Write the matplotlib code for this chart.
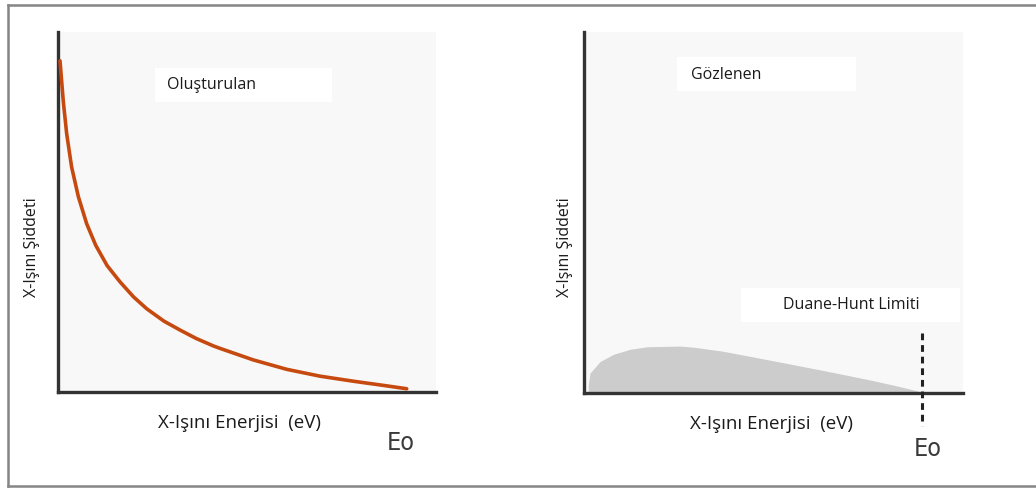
import numpy as np
import matplotlib
matplotlib.use("Agg")
import matplotlib.pyplot as plt
from matplotlib.patches import Rectangle
from matplotlib.lines import Line2D

# values (x and y in % of the axis)
gen_x = [0.53, 1.4, 2.3, 3.6, 5.4, 7.6, 10.0, 13.0, 16.4, 20.0, 23.5, 28.0,
         32.3, 36.5, 41.1, 42.9, 51.7, 60.5, 69.3, 78.1, 87.0, 92.25]
gen_y = [92.0, 80.7, 71.7, 62.5, 54.2, 46.7, 40.7, 35.1, 30.6, 26.4, 23.1, 19.7,
         17.2, 14.9, 12.8, 12.1, 8.9, 6.3, 4.4, 3.0, 1.7, 0.9]

obs_x = [1.1, 1.13, 1.58, 4.22, 7.73, 12.14, 16.54, 25.33, 28.8, 36.5, 44.6,
         53.5, 62.3, 69.0, 75.5, 82.0, 87.9, 89.2]
obs_y = [0.0, 2.2, 5.5, 8.7, 10.7, 12.1, 12.8, 13.0, 12.7, 11.6, 10.0,
         8.2, 6.4, 5.0, 3.6, 2.1, 0.6, 0.0]

e0 = 89.2          # Duane-Hunt limit position
dash_top = 16.6

xlabel = "X-Işını Enerjisi  (eV)"
ylabel = "X-Işını Şiddeti"
box1 = "Oluşturulan"
box2 = "Gözlenen"
box3 = "Duane-Hunt Limiti"

plt.rcParams['font.family'] = ['Open Sans', 'DejaVu Sans']

W, H = 1036, 488
fig = plt.figure(figsize=(W / 100, H / 100), dpi=100)
fig.patch.set_facecolor("white")

# outer frame (no right side)
border = dict(color="#858585", lw=1.8, transform=fig.transFigure)
fig.add_artist(Line2D([8 / W, 1.0], [1 - 5 / H, 1 - 5 / H], **border))
fig.add_artist(Line2D([8 / W, 1.0], [1 - 486 / H, 1 - 486 / H], **border))
fig.add_artist(Line2D([8 / W, 8 / W], [1 - 5 / H, 1 - 486 / H], **border))


def make_axes(left, top, right, bottom):
    ax = fig.add_axes([left / W, 1 - bottom / H, (right - left) / W, (bottom - top) / H])
    ax.set_facecolor("#f8f8f8")
    ax.set_xlim(0, 100)
    ax.set_ylim(0, 100)
    for s in ["top", "right"]:
        ax.spines[s].set_visible(False)
    for s in ["left", "bottom"]:
        ax.spines[s].set_color("#333333")
        ax.spines[s].set_linewidth(2.4)
    ax.set_xticks([])
    ax.set_yticks([])
    return ax


def label_box(ax, x0, y0, x1, y1, text, tx, ty, ha="left"):
    ax.add_patch(Rectangle((x0, y0), x1 - x0, y1 - y0, transform=ax.transAxes,
                           facecolor="white", edgecolor="none", zorder=2))
    ax.text(tx, ty, text, transform=ax.transAxes, ha=ha, va="center",
            fontsize=11.5, color="#1a1a1a", zorder=3)


def axis_texts(ax, xl, yl):
    ax.set_xlabel(xlabel, fontsize=13.5, color="#1a1a1a")
    ax.set_ylabel(ylabel, fontsize=11.5, color="#1a1a1a")
    ax.xaxis.set_label_coords(*xl)
    ax.yaxis.set_label_coords(*yl)


def e0_text(ax, x, y):
    ax.text(x, y, "Eo", ha="center", va="center", fontsize=18, color="#3a3a3a",
            family="DejaVu Sans", fontstretch="condensed", clip_on=False)


# left panel: generated spectrum
ax1 = make_axes(58, 32, 436, 392)
ax1.plot(gen_x, gen_y, color="#c64a10", lw=2.6, solid_capstyle="round",
         solid_joinstyle="round", zorder=4)
label_box(ax1, 0.257, 0.806, 0.725, 0.9, box1, 0.288, 0.853)
axis_texts(ax1, (0.48, -0.062), (-0.048, 0.403))
e0_text(ax1, 90.7, -14.2)

# right panel: observed spectrum
ax2 = make_axes(584, 32, 963, 393)
ax2.fill_between(obs_x, obs_y, 0, color="#cccccc", lw=0, zorder=1)
label_box(ax2, 0.245, 0.837, 0.718, 0.931, box2, 0.282, 0.881)
label_box(ax2, 0.414, 0.197, 0.992, 0.291, box3, 0.705, 0.244, ha="center")
ax2.plot([e0, e0], [dash_top, -9.1], color="#222222", lw=2.2,
         ls=(0, (2.2, 1.6)), clip_on=False, zorder=5)
axis_texts(ax2, (0.496, -0.060), (-0.029, 0.404))
e0_text(ax2, 90.8, -15.5)

fig.savefig("out.png", dpi=100)
